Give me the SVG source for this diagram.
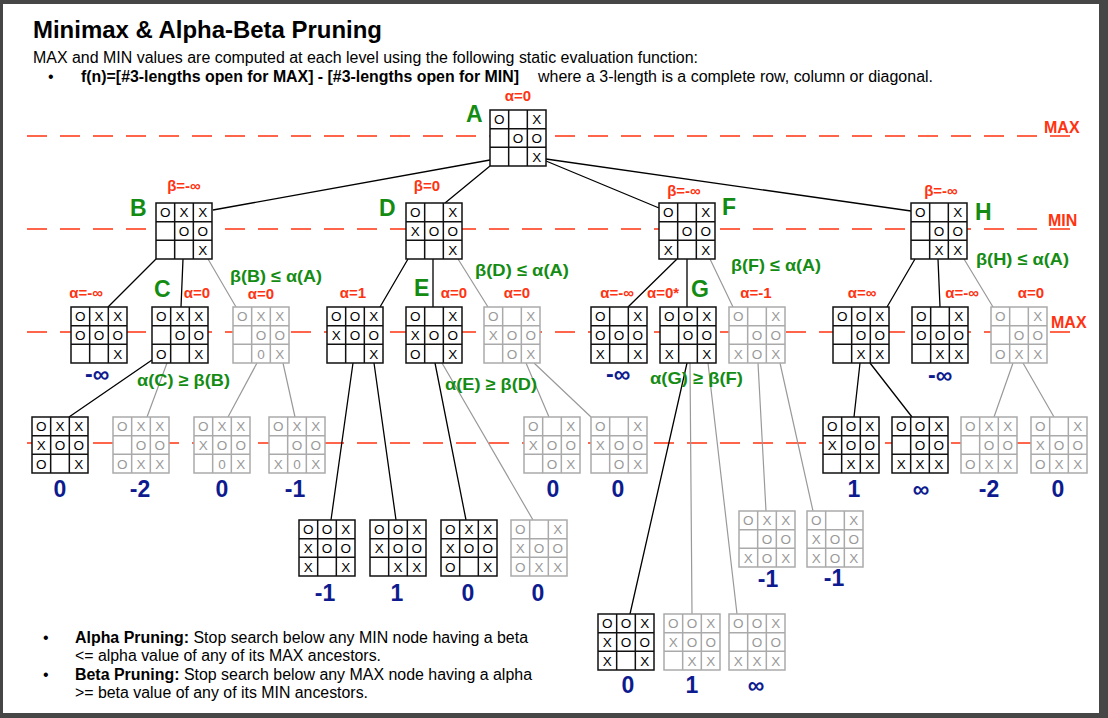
<svg xmlns="http://www.w3.org/2000/svg" xmlns:xlink="http://www.w3.org/1999/xlink" width="1108" height="718" viewBox="0 0 1108 718">
<style>
text{font-family:"Liberation Sans",Arial,Helvetica,sans-serif;stroke:none}
.c{font-size:13.5px;text-anchor:middle;fill:#000}
.gy .c{fill:#999}
.gy use{stroke:#aaa}
.bk use{stroke:#111}
.lt{font-size:23px;font-weight:bold;fill:#148c14}
.rd{font-size:15px;font-weight:bold;fill:#ff3311;text-anchor:middle}
.vl{font-size:23px;font-weight:bold;fill:#0e1b8f;text-anchor:middle}
.cd{font-size:17px;font-weight:bold;fill:#148c14}
.lv{stroke:#ff3311;stroke-width:1.3;stroke-dasharray:20 13;fill:none}
.lvt{font-size:16px;font-weight:bold;fill:#ff3311}
.e{stroke:#000;stroke-width:1.3;fill:none}
.ep{stroke:#999;stroke-width:1.2;fill:none}
.tx{font-size:16px;fill:#000}
</style>
<defs>
<path id="b" d="M0 0H56V56H0Z M18.67 0V56 M37.33 0V56 M0 18.67H56 M0 37.33H56" fill="#fff" stroke-width="1.5"/>
</defs>
<rect x="0" y="0" width="1108" height="718" fill="#464646"/>
<rect x="3" y="4" width="1096" height="709" fill="#fff"/>

<g id="header">
<text x="33" y="38" font-size="24" font-weight="bold" textLength="349" lengthAdjust="spacingAndGlyphs">Minimax &amp; Alpha-Beta Pruning</text>
<text class="tx" x="33" y="63" textLength="665" lengthAdjust="spacingAndGlyphs">MAX and MIN values are computed at each level using the following static evaluation function:</text>
<text class="tx" x="48" y="82">•</text>
<text class="tx" x="81" y="82" font-weight="bold" textLength="438" lengthAdjust="spacingAndGlyphs">f(n)=[#3-lengths open for MAX] - [#3-lengths open for MIN]</text>
<text class="tx" x="538" y="82" textLength="395" lengthAdjust="spacingAndGlyphs">where a 3-length is a complete row, column or diagonal.</text>
</g>

<g id="levels">
<line class="lv" x1="27" y1="136" x2="1081" y2="136"/>
<text class="lvt" x="1044" y="133">MAX</text>
<line class="lv" x1="27" y1="229" x2="1076" y2="229"/>
<text class="lvt" x="1048" y="226">MIN</text>
<line class="lv" x1="27" y1="332" x2="1076" y2="332"/>
<text class="lvt" x="1051" y="328">MAX</text>
<line class="lv" x1="27" y1="443" x2="1086" y2="443"/>
</g>

<g id="connectors">
<path class="e" d="M490 160L213 210M490 166L445 203M546 161L659 208M546 159L911 211M156 259L108 307M183 259L181 307M408 259L380 307M433 259L433 307M677 259L628 307M687 259L687 307M915 259L887 307M938 259L940 307M152 360L69 417M353 363L331 520M374 363L396 520M435 363L466 520M687 363L630 614M860 363L854 417M870 363L912 417"/>
<path class="ep" d="M208 259L236 307M458 259L488 307M710 259L733 307M964 259L993 307M167 363L147 417M257 363L228 417M283 363L295 417M442 363L533 520M526 363L549 417M534 363L591 417M758 363L766 511M780 363L813 511M690 363L692 614M708 363L737 614M1013 363L994 417M1023 363L1054 417"/>
</g>

<g id="node-A" class="bk">
<g transform="translate(490,110)"><use href="#b"/><text class="c"><tspan x="9.3 46.7" y="14.3">OX</tspan><tspan x="28 46.7" y="33">OO</tspan><tspan x="46.7" y="51.7">X</tspan></text></g>
<text class="lt" x="466" y="122">A</text><text class="rd" x="518" y="101">α=0</text>
</g>

<g id="node-B" class="bk">
<g transform="translate(156,203)"><use href="#b"/><text class="c"><tspan x="9.3 28 46.7" y="14.3">OXX</tspan><tspan x="28 46.7" y="33">OO</tspan><tspan x="46.7" y="51.7">X</tspan></text></g>
<text class="lt" x="130" y="216">B</text><text class="rd" x="184" y="191">β=-∞</text>
</g>
<g id="node-D" class="bk">
<g transform="translate(406,203)"><use href="#b"/><text class="c"><tspan x="9.3 46.7" y="14.3">OX</tspan><tspan x="9.3 28 46.7" y="33">XOO</tspan><tspan x="46.7" y="51.7">X</tspan></text></g>
<text class="lt" x="379" y="216">D</text><text class="rd" x="427" y="191">β=0</text>
</g>
<g id="node-F" class="bk">
<g transform="translate(659,203)"><use href="#b"/><text class="c"><tspan x="9.3 46.7" y="14.3">OX</tspan><tspan x="28 46.7" y="33">OO</tspan><tspan x="9.3 46.7" y="51.7">XX</tspan></text></g>
<text class="lt" x="722" y="215">F</text><text class="rd" x="684" y="196">β=-∞</text>
</g>
<g id="node-H" class="bk">
<g transform="translate(911,203)"><use href="#b"/><text class="c"><tspan x="9.3 46.7" y="14.3">OX</tspan><tspan x="28 46.7" y="33">OO</tspan><tspan x="28 46.7" y="51.7">XX</tspan></text></g>
<text class="lt" x="975" y="220">H</text><text class="rd" x="941" y="196">β=-∞</text>
</g>

<g id="node-B1" class="bk">
<g transform="translate(71,307)"><use href="#b"/><text class="c"><tspan x="9.3 28 46.7" y="14.3">OXX</tspan><tspan x="9.3 28 46.7" y="33">OOO</tspan><tspan x="46.7" y="51.7">X</tspan></text></g>
<text class="rd" x="86" y="298">α=-∞</text><text class="vl" x="97" y="382">-∞</text>
</g>
<g id="node-C" class="bk">
<g transform="translate(152,307)"><use href="#b"/><text class="c"><tspan x="9.3 28 46.7" y="14.3">OXX</tspan><tspan x="28 46.7" y="33">OO</tspan><tspan x="9.3 46.7" y="51.7">OX</tspan></text></g>
<text class="lt" x="154" y="297">C</text><text class="rd" x="197" y="298">α=0</text>
</g>
<g id="node-B3" class="gy">
<g transform="translate(233,307)"><use href="#b"/><text class="c"><tspan x="9.3 28 46.7" y="14.3">OXX</tspan><tspan x="28 46.7" y="33">OO</tspan><tspan x="28 46.7" y="51.7">0X</tspan></text></g>
<text class="rd" x="261" y="299">α=0</text>
</g>
<g id="node-D1" class="bk">
<g transform="translate(327,307)"><use href="#b"/><text class="c"><tspan x="9.3 28 46.7" y="14.3">OOX</tspan><tspan x="9.3 28 46.7" y="33">XOO</tspan><tspan x="46.7" y="51.7">X</tspan></text></g>
<text class="rd" x="353" y="298">α=1</text>
</g>
<g id="node-E" class="bk">
<g transform="translate(406,307)"><use href="#b"/><text class="c"><tspan x="9.3 46.7" y="14.3">OX</tspan><tspan x="9.3 28 46.7" y="33">XOO</tspan><tspan x="9.3 46.7" y="51.7">OX</tspan></text></g>
<text class="lt" x="414" y="296">E</text><text class="rd" x="454" y="298">α=0</text>
</g>
<g id="node-D3" class="gy">
<g transform="translate(484,307)"><use href="#b"/><text class="c"><tspan x="9.3 46.7" y="14.3">OX</tspan><tspan x="9.3 28 46.7" y="33">XOO</tspan><tspan x="28 46.7" y="51.7">OX</tspan></text></g>
<text class="rd" x="517" y="298">α=0</text>
</g>
<g id="node-F1" class="bk">
<g transform="translate(591,307)"><use href="#b"/><text class="c"><tspan x="9.3 46.7" y="14.3">OX</tspan><tspan x="9.3 28 46.7" y="33">OOO</tspan><tspan x="9.3 46.7" y="51.7">XX</tspan></text></g>
<text class="rd" x="617" y="298">α=-∞</text><text class="vl" x="618" y="382">-∞</text>
</g>
<g id="node-G" class="bk">
<g transform="translate(660,307)"><use href="#b"/><text class="c"><tspan x="9.3 28 46.7" y="14.3">OOX</tspan><tspan x="28 46.7" y="33">OO</tspan><tspan x="9.3 46.7" y="51.7">XX</tspan></text></g>
<text class="lt" x="691" y="297">G</text><text class="rd" x="663" y="298">α=0*</text>
</g>
<g id="node-F3" class="gy">
<g transform="translate(729,307)"><use href="#b"/><text class="c"><tspan x="9.3 46.7" y="14.3">OX</tspan><tspan x="28 46.7" y="33">OO</tspan><tspan x="9.3 28 46.7" y="51.7">XOX</tspan></text></g>
<text class="rd" x="756" y="298">α=-1</text>
</g>
<g id="node-H1" class="bk">
<g transform="translate(833,307)"><use href="#b"/><text class="c"><tspan x="9.3 28 46.7" y="14.3">OOX</tspan><tspan x="28 46.7" y="33">OO</tspan><tspan x="28 46.7" y="51.7">XX</tspan></text></g>
<text class="rd" x="862" y="298">α=∞</text>
</g>
<g id="node-H2" class="bk">
<g transform="translate(912,307)"><use href="#b"/><text class="c"><tspan x="9.3 46.7" y="14.3">OX</tspan><tspan x="9.3 28 46.7" y="33">OOO</tspan><tspan x="28 46.7" y="51.7">XX</tspan></text></g>
<text class="rd" x="962" y="298">α=-∞</text><text class="vl" x="940" y="383">-∞</text>
</g>
<g id="node-H3" class="gy">
<g transform="translate(991,307)"><use href="#b"/><text class="c"><tspan x="9.3 46.7" y="14.3">OX</tspan><tspan x="28 46.7" y="33">OO</tspan><tspan x="9.3 28 46.7" y="51.7">OXX</tspan></text></g>
<text class="rd" x="1031" y="298">α=0</text>
</g>

<g id="node-C1" class="bk">
<g transform="translate(32,417)"><use href="#b"/><text class="c"><tspan x="9.3 28 46.7" y="14.3">OXX</tspan><tspan x="9.3 28 46.7" y="33">XOO</tspan><tspan x="9.3 46.7" y="51.7">OX</tspan></text></g>
<text class="vl" x="60" y="497">0</text>
</g>
<g id="node-C2" class="gy">
<g transform="translate(113,417)"><use href="#b"/><text class="c"><tspan x="9.3 28 46.7" y="14.3">OXX</tspan><tspan x="28 46.7" y="33">OO</tspan><tspan x="9.3 28 46.7" y="51.7">OXX</tspan></text></g>
<text class="vl" x="140" y="497">-2</text>
</g>
<g id="node-B3a" class="gy">
<g transform="translate(194,417)"><use href="#b"/><text class="c"><tspan x="9.3 28 46.7" y="14.3">OXX</tspan><tspan x="9.3 28 46.7" y="33">XOO</tspan><tspan x="28 46.7" y="51.7">0X</tspan></text></g>
<text class="vl" x="222" y="497">0</text>
</g>
<g id="node-B3b" class="gy">
<g transform="translate(269,417)"><use href="#b"/><text class="c"><tspan x="9.3 28 46.7" y="14.3">OXX</tspan><tspan x="28 46.7" y="33">OO</tspan><tspan x="9.3 28 46.7" y="51.7">X0X</tspan></text></g>
<text class="vl" x="295" y="497">-1</text>
</g>
<g id="node-D3a" class="gy">
<g transform="translate(524,417)"><use href="#b"/><text class="c"><tspan x="9.3 46.7" y="14.3">OX</tspan><tspan x="9.3 28 46.7" y="33">XOO</tspan><tspan x="28 46.7" y="51.7">OX</tspan></text></g>
<text class="vl" x="553" y="497">0</text>
</g>
<g id="node-D3b" class="gy">
<g transform="translate(591,417)"><use href="#b"/><text class="c"><tspan x="9.3 46.7" y="14.3">OX</tspan><tspan x="9.3 28 46.7" y="33">XOO</tspan><tspan x="28 46.7" y="51.7">OX</tspan></text></g>
<text class="vl" x="618" y="497">0</text>
</g>
<g id="node-H1a" class="bk">
<g transform="translate(823,417)"><use href="#b"/><text class="c"><tspan x="9.3 28 46.7" y="14.3">OOX</tspan><tspan x="9.3 28 46.7" y="33">XOO</tspan><tspan x="28 46.7" y="51.7">XX</tspan></text></g>
<text class="vl" x="854" y="497">1</text>
</g>
<g id="node-H1b" class="bk">
<g transform="translate(892,417)"><use href="#b"/><text class="c"><tspan x="9.3 28 46.7" y="14.3">OOX</tspan><tspan x="28 46.7" y="33">OO</tspan><tspan x="9.3 28 46.7" y="51.7">XXX</tspan></text></g>
<text class="vl" x="921" y="497">∞</text>
</g>
<g id="node-H3a" class="gy">
<g transform="translate(961,417)"><use href="#b"/><text class="c"><tspan x="9.3 28 46.7" y="14.3">OXX</tspan><tspan x="28 46.7" y="33">OO</tspan><tspan x="9.3 28 46.7" y="51.7">OXX</tspan></text></g>
<text class="vl" x="989" y="497">-2</text>
</g>
<g id="node-H3b" class="gy">
<g transform="translate(1031,417)"><use href="#b"/><text class="c"><tspan x="9.3 46.7" y="14.3">OX</tspan><tspan x="9.3 28 46.7" y="33">XOO</tspan><tspan x="9.3 28 46.7" y="51.7">OXX</tspan></text></g>
<text class="vl" x="1058" y="497">0</text>
</g>

<g id="node-D1a" class="bk">
<g transform="translate(299,520)"><use href="#b"/><text class="c"><tspan x="9.3 28 46.7" y="14.3">OOX</tspan><tspan x="9.3 28 46.7" y="33">XOO</tspan><tspan x="9.3 46.7" y="51.7">XX</tspan></text></g>
<text class="vl" x="325" y="601">-1</text>
</g>
<g id="node-D1b" class="bk">
<g transform="translate(370,520)"><use href="#b"/><text class="c"><tspan x="9.3 28 46.7" y="14.3">OOX</tspan><tspan x="9.3 28 46.7" y="33">XOO</tspan><tspan x="28 46.7" y="51.7">XX</tspan></text></g>
<text class="vl" x="397" y="601">1</text>
</g>
<g id="node-Ea" class="bk">
<g transform="translate(441,520)"><use href="#b"/><text class="c"><tspan x="9.3 28 46.7" y="14.3">OXX</tspan><tspan x="9.3 28 46.7" y="33">XOO</tspan><tspan x="9.3 46.7" y="51.7">OX</tspan></text></g>
<text class="vl" x="468" y="601">0</text>
</g>
<g id="node-Eb" class="gy">
<g transform="translate(511,520)"><use href="#b"/><text class="c"><tspan x="9.3 46.7" y="14.3">OX</tspan><tspan x="9.3 28 46.7" y="33">XOO</tspan><tspan x="9.3 28 46.7" y="51.7">OXX</tspan></text></g>
<text class="vl" x="538" y="601">0</text>
</g>
<g id="node-F3a" class="gy">
<g transform="translate(739,511)"><use href="#b"/><text class="c"><tspan x="9.3 28 46.7" y="14.3">OXX</tspan><tspan x="28 46.7" y="33">OO</tspan><tspan x="9.3 28 46.7" y="51.7">XOX</tspan></text></g>
<text class="vl" x="768" y="587">-1</text>
</g>
<g id="node-F3b" class="gy">
<g transform="translate(807,511)"><use href="#b"/><text class="c"><tspan x="9.3 46.7" y="14.3">OX</tspan><tspan x="9.3 28 46.7" y="33">XOO</tspan><tspan x="9.3 28 46.7" y="51.7">XOX</tspan></text></g>
<text class="vl" x="834" y="586">-1</text>
</g>

<g id="node-Ga" class="bk">
<g transform="translate(598,614)"><use href="#b"/><text class="c"><tspan x="9.3 28 46.7" y="14.3">OOX</tspan><tspan x="9.3 28 46.7" y="33">XOO</tspan><tspan x="9.3 46.7" y="51.7">XX</tspan></text></g>
<text class="vl" x="628" y="693">0</text>
</g>
<g id="node-Gb" class="gy">
<g transform="translate(664,614)"><use href="#b"/><text class="c"><tspan x="9.3 28 46.7" y="14.3">OOX</tspan><tspan x="9.3 28 46.7" y="33">XOO</tspan><tspan x="28 46.7" y="51.7">XX</tspan></text></g>
<text class="vl" x="692" y="693">1</text>
</g>
<g id="node-Gc" class="gy">
<g transform="translate(729,614)"><use href="#b"/><text class="c"><tspan x="9.3 28 46.7" y="14.3">OOX</tspan><tspan x="28 46.7" y="33">OO</tspan><tspan x="9.3 28 46.7" y="51.7">XXX</tspan></text></g>
<text class="vl" x="756" y="693">∞</text>
</g>

<g id="conditions">
<text class="cd" x="230" y="282" textLength="92" lengthAdjust="spacingAndGlyphs">β(B) ≤ α(A)</text>
<text class="cd" x="475" y="276" textLength="94" lengthAdjust="spacingAndGlyphs">β(D) ≤ α(A)</text>
<text class="cd" x="731" y="271" textLength="90" lengthAdjust="spacingAndGlyphs">β(F) ≤ α(A)</text>
<text class="cd" x="976" y="265" textLength="93" lengthAdjust="spacingAndGlyphs">β(H) ≤ α(A)</text>
<text class="cd" x="137" y="386" textLength="93" lengthAdjust="spacingAndGlyphs">α(C) ≥ β(B)</text>
<text class="cd" x="445" y="390" textLength="92" lengthAdjust="spacingAndGlyphs">α(E) ≥ β(D)</text>
<text class="cd" x="650" y="384" textLength="93" lengthAdjust="spacingAndGlyphs">α(G) ≥ β(F)</text>
</g>

<g id="notes">
<text class="tx" x="43" y="643">•</text>
<text class="tx" x="75" y="643" textLength="453" lengthAdjust="spacingAndGlyphs"><tspan font-weight="bold">Alpha Pruning:</tspan> Stop search below any MIN node having a beta</text>
<text class="tx" x="75" y="661" textLength="306" lengthAdjust="spacingAndGlyphs">&lt;= alpha value of any of its MAX ancestors.</text>
<text class="tx" x="43" y="680">•</text>
<text class="tx" x="75" y="680" textLength="457" lengthAdjust="spacingAndGlyphs"><tspan font-weight="bold">Beta Pruning:</tspan> Stop search below any MAX node having a alpha</text>
<text class="tx" x="75" y="698" textLength="293" lengthAdjust="spacingAndGlyphs">&gt;= beta value of any of its MIN ancestors.</text>
</g>
</svg>
